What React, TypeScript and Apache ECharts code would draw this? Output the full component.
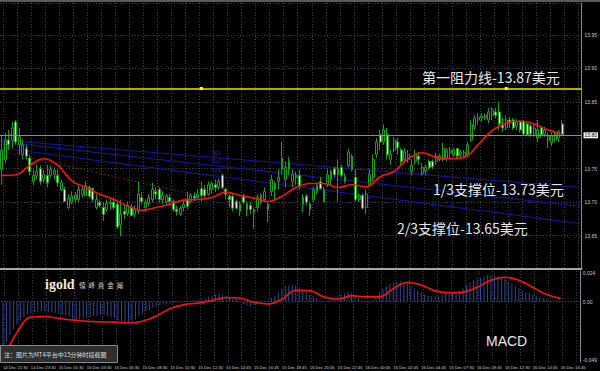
import React, { useEffect, useRef } from 'react';
import * as echarts from 'echarts';

const SLOT_COUNT = 166;

const tickLabels = [
  '14 Dec 21:30', '14 Dec 23:30', '15 Dec 01:30', '15 Dec 03:30', '15 Dec 05:30',
  '15 Dec 08:30', '15 Dec 10:30', '15 Dec 12:30', '15 Dec 14:45', '15 Dec 16:45',
  '15 Dec 18:45', '15 Dec 20:45', '15 Dec 22:45', '16 Dec 00:45', '16 Dec 02:45',
  '16 Dec 04:45', '16 Dec 07:30', '16 Dec 09:45', '16 Dec 12:30', '16 Dec 14:45',
  '16 Dec 16:45',
];

// [open, close, low, high]
const candles = [
  [13.749, 13.778, 13.726, 13.801], [13.764, 13.793, 13.759, 13.804], [13.793, 13.786, 13.778, 13.808], [13.793, 13.811, 13.781, 13.820],
  [13.820, 13.790, 13.786, 13.823], [13.786, 13.798, 13.771, 13.811], [13.771, 13.786, 13.764, 13.793], [13.780, 13.769, 13.764, 13.786],
  [13.766, 13.746, 13.740, 13.771], [13.731, 13.740, 13.725, 13.749], [13.740, 13.746, 13.734, 13.756], [13.750, 13.731, 13.726, 13.755],
  [13.734, 13.741, 13.729, 13.749], [13.740, 13.729, 13.722, 13.756], [13.740, 13.749, 13.737, 13.755], [13.741, 13.747, 13.734, 13.752],
  [13.740, 13.729, 13.723, 13.749], [13.719, 13.729, 13.716, 13.734], [13.719, 13.701, 13.700, 13.723], [13.692, 13.706, 13.689, 13.712],
  [13.700, 13.709, 13.697, 13.716], [13.704, 13.710, 13.698, 13.715], [13.704, 13.719, 13.700, 13.725], [13.712, 13.719, 13.707, 13.725],
  [13.710, 13.725, 13.709, 13.731], [13.722, 13.709, 13.706, 13.725], [13.720, 13.704, 13.700, 13.722], [13.692, 13.704, 13.689, 13.712],
  [13.700, 13.695, 13.692, 13.704], [13.692, 13.682, 13.672, 13.700], [13.689, 13.698, 13.686, 13.704], [13.697, 13.700, 13.689, 13.706],
  [13.700, 13.692, 13.689, 13.707], [13.697, 13.663, 13.660, 13.700], [13.666, 13.682, 13.649, 13.704], [13.686, 13.682, 13.675, 13.697],
  [13.683, 13.695, 13.679, 13.701], [13.692, 13.680, 13.679, 13.697], [13.682, 13.689, 13.677, 13.695], [13.686, 13.712, 13.682, 13.731],
  [13.707, 13.701, 13.697, 13.715], [13.692, 13.700, 13.686, 13.704], [13.698, 13.706, 13.694, 13.712], [13.704, 13.719, 13.700, 13.729],
  [13.716, 13.712, 13.704, 13.722], [13.719, 13.704, 13.700, 13.722], [13.704, 13.710, 13.697, 13.716], [13.700, 13.709, 13.695, 13.712],
  [13.707, 13.701, 13.695, 13.712], [13.701, 13.689, 13.686, 13.704], [13.689, 13.686, 13.680, 13.695], [13.682, 13.691, 13.679, 13.695],
  [13.692, 13.697, 13.686, 13.704], [13.704, 13.694, 13.689, 13.716], [13.701, 13.710, 13.698, 13.713], [13.709, 13.706, 13.701, 13.715],
  [13.707, 13.712, 13.704, 13.719], [13.720, 13.710, 13.701, 13.731], [13.719, 13.710, 13.704, 13.726], [13.712, 13.726, 13.709, 13.731],
  [13.719, 13.728, 13.712, 13.731], [13.726, 13.722, 13.715, 13.734], [13.722, 13.731, 13.719, 13.735], [13.740, 13.722, 13.719, 13.743],
  [13.719, 13.712, 13.704, 13.722], [13.709, 13.704, 13.692, 13.712], [13.709, 13.691, 13.686, 13.712], [13.701, 13.691, 13.689, 13.704],
  [13.686, 13.697, 13.679, 13.701], [13.710, 13.700, 13.697, 13.713], [13.689, 13.698, 13.679, 13.701], [13.695, 13.689, 13.682, 13.700],
  [13.685, 13.689, 13.660, 13.692], [13.692, 13.707, 13.686, 13.712], [13.710, 13.700, 13.697, 13.713], [13.704, 13.716, 13.700, 13.722],
  [13.689, 13.697, 13.670, 13.701], [13.716, 13.734, 13.709, 13.741], [13.719, 13.728, 13.701, 13.731], [13.731, 13.737, 13.719, 13.749],
  [13.749, 13.766, 13.741, 13.790], [13.734, 13.752, 13.722, 13.761], [13.749, 13.761, 13.741, 13.768], [13.731, 13.741, 13.722, 13.749],
  [13.740, 13.737, 13.726, 13.746], [13.740, 13.723, 13.719, 13.749], [13.697, 13.707, 13.685, 13.712], [13.709, 13.700, 13.695, 13.712],
  [13.689, 13.698, 13.679, 13.701], [13.704, 13.719, 13.700, 13.723], [13.716, 13.725, 13.712, 13.729], [13.731, 13.720, 13.719, 13.738],
  [13.719, 13.701, 13.700, 13.723], [13.726, 13.741, 13.723, 13.749], [13.734, 13.746, 13.725, 13.749], [13.750, 13.741, 13.737, 13.753],
  [13.750, 13.741, 13.701, 13.764], [13.752, 13.740, 13.737, 13.756], [13.731, 13.738, 13.728, 13.743], [13.755, 13.775, 13.752, 13.780],
  [13.769, 13.749, 13.746, 13.772], [13.737, 13.704, 13.701, 13.749], [13.704, 13.710, 13.700, 13.713], [13.710, 13.691, 13.689, 13.713],
  [13.692, 13.712, 13.682, 13.719], [13.726, 13.741, 13.722, 13.749], [13.737, 13.764, 13.731, 13.771], [13.771, 13.790, 13.766, 13.796],
  [13.801, 13.790, 13.778, 13.808], [13.790, 13.808, 13.786, 13.816], [13.801, 13.771, 13.764, 13.811], [13.764, 13.771, 13.756, 13.778],
  [13.778, 13.793, 13.775, 13.798], [13.790, 13.781, 13.771, 13.796], [13.778, 13.761, 13.756, 13.781], [13.764, 13.775, 13.759, 13.781],
  [13.764, 13.771, 13.759, 13.778], [13.746, 13.755, 13.740, 13.764], [13.761, 13.771, 13.756, 13.778], [13.769, 13.764, 13.756, 13.775],
  [13.743, 13.752, 13.740, 13.759], [13.746, 13.752, 13.740, 13.756], [13.761, 13.752, 13.749, 13.764], [13.761, 13.753, 13.749, 13.764],
  [13.761, 13.769, 13.756, 13.774], [13.764, 13.769, 13.761, 13.772], [13.764, 13.781, 13.761, 13.789], [13.766, 13.778, 13.761, 13.781],
  [13.774, 13.778, 13.766, 13.783], [13.771, 13.778, 13.768, 13.781], [13.780, 13.769, 13.766, 13.781], [13.771, 13.775, 13.766, 13.778],
  [13.769, 13.774, 13.768, 13.778], [13.771, 13.786, 13.768, 13.790], [13.793, 13.816, 13.790, 13.823], [13.813, 13.826, 13.808, 13.830],
  [13.823, 13.827, 13.816, 13.833], [13.826, 13.829, 13.820, 13.833], [13.826, 13.830, 13.823, 13.833], [13.823, 13.835, 13.818, 13.841],
  [13.830, 13.838, 13.823, 13.842], [13.835, 13.830, 13.826, 13.841], [13.835, 13.817, 13.808, 13.850], [13.817, 13.811, 13.805, 13.826],
  [13.811, 13.823, 13.808, 13.830], [13.823, 13.820, 13.811, 13.827], [13.823, 13.811, 13.808, 13.826], [13.814, 13.820, 13.808, 13.824],
  [13.820, 13.808, 13.804, 13.823], [13.821, 13.802, 13.799, 13.823], [13.817, 13.801, 13.799, 13.820], [13.814, 13.802, 13.798, 13.817],
  [13.802, 13.811, 13.798, 13.816], [13.796, 13.808, 13.790, 13.823], [13.811, 13.801, 13.796, 13.814], [13.802, 13.808, 13.798, 13.813],
  [13.793, 13.798, 13.781, 13.804], [13.789, 13.799, 13.784, 13.804], [13.793, 13.801, 13.790, 13.807], [13.796, 13.805, 13.790, 13.808],
  [13.817, 13.801, 13.798, 13.823],
];

// moving average, read every 4th bar
const maIndex = [0, 4, 8, 12, 16, 20, 24, 28, 32, 36, 40, 44, 48, 52, 56, 60, 64, 68, 72, 76, 80, 84, 88, 92, 96, 100, 104, 108, 112, 116, 120, 124, 128, 132, 136, 140, 144, 148, 152, 156, 160];
const maValues = [13.740, 13.741, 13.755, 13.765, 13.755, 13.732, 13.722, 13.712, 13.704, 13.694, 13.688, 13.692, 13.697, 13.703, 13.704, 13.707, 13.715, 13.710, 13.706, 13.701, 13.709, 13.722, 13.728, 13.728, 13.722, 13.726, 13.723, 13.738, 13.746, 13.765, 13.774, 13.767, 13.765, 13.767, 13.786, 13.807, 13.818, 13.821, 13.817, 13.808, 13.802];

const macdHist = [
  -0.040, -0.034, -0.028, -0.023, -0.019, -0.016, -0.013, -0.011,
  -0.010, -0.009, -0.0085, -0.008, -0.008, -0.0085, -0.009, -0.0095,
  -0.010, -0.011, -0.012, -0.013, -0.015, -0.016, -0.015, -0.014,
  -0.014, -0.013, -0.012, -0.012, -0.011, -0.011, -0.012, -0.013,
  -0.014, -0.016, -0.017, -0.018, -0.018, -0.017, -0.015, -0.012,
  -0.010, -0.008, -0.007, -0.005, -0.004, -0.003, -0.0025, -0.002,
  -0.0015, -0.0015, -0.001, -0.0005, 0.0, 0.0005, 0.001, 0.001,
  0.0015, 0.002, 0.003, 0.004, 0.005, 0.006, 0.0065, 0.006,
  0.005, 0.004, 0.003, 0.002, 0.0005, -0.002, -0.003, -0.004,
  -0.003, -0.002, -0.001, -0.0005, 0.001, 0.003, 0.005, 0.008,
  0.011, 0.013, 0.0135, 0.014, 0.0135, 0.012, 0.010, 0.008,
  0.006, 0.005, 0.003, 0.001, 0.0005, 0.0005, 0.001, 0.002,
  0.004, 0.006, 0.007, 0.008, 0.007, 0.005, 0.003, 0.001,
  -0.0005, -0.001, 0.001, 0.004, 0.008, 0.011, 0.013, 0.015,
  0.016, 0.0165, 0.017, 0.016, 0.015, 0.013, 0.011, 0.009,
  0.008, 0.006, 0.005, 0.005, 0.005, 0.005, 0.006, 0.007,
  0.007, 0.007, 0.008, 0.009, 0.011, 0.014, 0.016, 0.018,
  0.019, 0.020, 0.021, 0.022, 0.022, 0.022, 0.021, 0.020,
  0.019, 0.017, 0.015, 0.013, 0.011, 0.009, 0.008, 0.007,
  0.006, 0.005, 0.004, 0.003, 0.002, 0.0015, 0.001, 0.0005,
  0.0,
];

const signalIndex = maIndex;
const signalValues = [-0.048, -0.026, -0.013, -0.0125, -0.014, -0.0155, -0.0165, -0.017, -0.0172, -0.0178, -0.0165, -0.012, -0.0057, -0.0025, -0.0013, 0.001, 0.0035, 0.003, -0.0005, -0.002, 0.002, 0.0095, 0.0092, 0.004, 0.002, 0.005, 0.004, 0.004, 0.011, 0.016, 0.014, 0.009, 0.0075, 0.008, 0.012, 0.018, 0.0205, 0.018, 0.012, 0.006, 0.0027];

const resistance = 13.87;
const resistanceAnchors = [57, 144];
const fanLines = [
  [[0, 13.793], [165, 13.722]],
  [[0, 13.790], [165, 13.694]],
  [[0, 13.781], [165, 13.668]],
];
const fanLabels = ['38.2', '50.0', '61.8'];
const dottedTrend = [[0, 13.776], [57, 13.709]];
const macdLabelValues = [-0.049, 0, 0.024];

const categories = Array.from({ length: SLOT_COUNT }, (_, i) =>
  i % 8 === 0 && tickLabels[i / 8] ? tickLabels[i / 8] : ''
);

export default function App() {
  const ref = useRef<HTMLDivElement>(null);
  useEffect(() => {
    document.body.style.margin = '0';
    document.body.style.background = '#000';
    const chart = echarts.init(ref.current!, null, { renderer: 'svg' });
    const gridColor = '#3a4252';
    const splitX = {
      show: true,
      interval: (i: number) => i % 4 === 1,
      lineStyle: { color: gridColor, type: [1, 2] as any, width: 1 },
    };
    const lastClose = candles[candles.length - 1][1];
    const cjk = '"Noto Sans CJK SC", sans-serif';
    const option: any = {
      animation: false,
      backgroundColor: '#000',
      grid: [
        { left: 0, right: 18, top: 3, height: 266 },
        { left: 0, right: 18, top: 271, height: 91 },
      ],
      xAxis: [
        {
          type: 'category', gridIndex: 0, data: categories, boundaryGap: true,
          axisLine: { show: true, lineStyle: { color: '#a6a6a6', width: 2 } },
          axisTick: { show: false }, axisLabel: { show: false }, splitLine: splitX,
        },
        {
          type: 'category', gridIndex: 1, data: categories, boundaryGap: true,
          axisLine: { show: false }, axisTick: { show: false },
          axisLabel: { show: true, interval: 7, align: 'left', fontSize: 4.2, color: '#d0d0d0', margin: 3, fontFamily: 'Liberation Sans' },
          splitLine: splitX,
        },
      ],
      yAxis: [
        {
          type: 'value', gridIndex: 0, position: 'right', min: 13.6, max: 13.998, interval: 0.05, scale: true,
          axisLine: { show: true, lineStyle: { color: '#8a8a8a', width: 1 } },
          axisTick: { show: false },
          axisLabel: {
            fontSize: 5, color: '#c8c8c8', margin: 3, fontFamily: 'Liberation Sans',
            showMinLabel: false, showMaxLabel: false,
            formatter: (v: number) => (Math.abs(v - 13.8) < 1e-6 ? '' : v.toFixed(2)),
          },
          splitLine: { show: true, lineStyle: { color: gridColor, type: [1, 2], width: 1 } },
        },
        {
          type: 'value', gridIndex: 1, position: 'right', min: -0.0507, max: 0.0257,
          axisLine: { show: true, lineStyle: { color: '#8a8a8a', width: 1 } },
          axisTick: { show: false },
          axisLabel: {
            customValues: macdLabelValues,
            fontSize: 5, color: '#c8c8c8', margin: 3, fontFamily: 'Liberation Sans',
            formatter: (v: number) => (v === 0 ? '0.00' : String(v)),
          },
          splitLine: { show: false },
        },
      ],
      series: [
        {
          type: 'candlestick', xAxisIndex: 0, yAxisIndex: 0, data: candles, barWidth: 2.4,
          itemStyle: { color: '#000', color0: '#e4f7dc', borderColor: '#1e9e1e', borderColor0: '#1e9e1e', borderWidth: 1 },
          z: 3,
          markLine: {
            symbol: 'none', silent: true, animation: false,
            data: [
              {
                yAxis: lastClose,
                lineStyle: { color: '#8c8c8c', width: 1, type: 'solid' },
                label: {
                  show: true, position: 'end', formatter: '13.80', distance: 2,
                  backgroundColor: '#f4f4f4', color: '#000', fontSize: 5, padding: [1, 1, 0, 1],
                  fontFamily: 'Liberation Sans',
                },
              },
              {
                yAxis: resistance,
                lineStyle: { color: '#e8e800', width: 1.5, type: 'solid' },
                label: { show: false },
              },
            ],
          },
          markPoint: {
            symbol: 'rect', symbolSize: 3, silent: true,
            itemStyle: { color: '#ffff00' }, label: { show: false },
            data: resistanceAnchors.map((i) => ({ coord: [i, resistance] })),
          },
        },
        ...fanLines.map((d) => ({
          type: 'line', xAxisIndex: 0, yAxisIndex: 0, data: d, symbol: 'none', silent: true,
          lineStyle: { color: '#1616a8', width: 1 }, z: 2,
        })),
        {
          type: 'line', xAxisIndex: 0, yAxisIndex: 0, data: dottedTrend, symbol: 'none', silent: true,
          lineStyle: { color: '#7a1a1a', width: 1, type: [2, 2] }, z: 2,
        },
        {
          type: 'line', xAxisIndex: 0, yAxisIndex: 0,
          data: maIndex.map((i, k) => [i, maValues[k]]),
          smooth: 0.4, symbol: 'none', silent: true,
          lineStyle: { color: '#ff1010', width: 1.6 }, z: 5,
        },
        {
          type: 'bar', xAxisIndex: 1, yAxisIndex: 1, data: macdHist, barWidth: 1,
          itemStyle: { color: '#2e4a9a' }, silent: true,
          markLine: {
            symbol: 'none', silent: true,
            data: [{ yAxis: 0 }],
            lineStyle: { color: '#4a5888', width: 1, type: [1, 2] },
            label: { show: false },
          },
        },
        {
          type: 'line', xAxisIndex: 1, yAxisIndex: 1,
          data: signalIndex.map((i, k) => [i, signalValues[k]]),
          smooth: 0.4, symbol: 'none', silent: true,
          lineStyle: { color: '#ff1010', width: 1.6 }, z: 5,
        },
      ],
      graphic: [
        { type: 'rect', shape: { x: 0, y: 0, width: 600, height: 2 }, style: { fill: '#5a5a5a' }, silent: true, z: 100 },
        { type: 'text', x: 422, y: 77, z: 100, style: { text: '第一阻力线-13.87美元', fill: '#e6e6e6', fontSize: 14, fontFamily: cjk, verticalAlign: 'middle' } },
        { type: 'text', x: 433, y: 189, z: 100, style: { text: '1/3支撑位-13.73美元', fill: '#e6e6e6', fontSize: 14, fontFamily: cjk, verticalAlign: 'middle' } },
        { type: 'text', x: 397, y: 228, z: 100, style: { text: '2/3支撑位-13.65美元', fill: '#e6e6e6', fontSize: 14, fontFamily: cjk, verticalAlign: 'middle' } },
        { type: 'text', x: 486, y: 341, z: 100, style: { text: 'MACD', fill: '#e6e6e6', fontSize: 14, fontFamily: 'Liberation Sans', verticalAlign: 'middle' } },
        { type: 'text', x: 45, y: 284, z: 100, style: { text: 'igold', fill: '#f2ead8', fontSize: 14, fontWeight: 'bold', fontFamily: 'Liberation Serif', verticalAlign: 'middle' } },
        { type: 'text', x: 79, y: 285, z: 100, style: { text: '領  峰  貴  金  屬', fill: '#d8d0c0', fontSize: 6.5, fontFamily: '"Noto Sans CJK TC"', verticalAlign: 'middle' } },
        { type: 'rect', z: 100, shape: { x: 0.5, y: 345.5, width: 117, height: 17 }, style: { fill: '#2e2e2e', stroke: '#8a8a8a', lineWidth: 1 } },
        { type: 'text', x: 4, y: 354, z: 101, style: { text: '注：图片为MT4平台中15分钟时段截图', fill: '#dcdcdc', fontSize: 6, fontFamily: cjk, verticalAlign: 'middle' } },
        ...fanLabels.map((t, k) => ({
          type: 'text', x: 212, y: 153 + k * 8.5, z: 100,
          style: { text: t, fill: '#2a2ad0', fontSize: 4.5, fontFamily: 'Liberation Sans', verticalAlign: 'middle' },
        })),
      ],
    };
    chart.setOption(option);
    return () => chart.dispose();
  }, []);
  return <div ref={ref} style={{ width: 600, height: 371, background: '#000' }} />;
}
